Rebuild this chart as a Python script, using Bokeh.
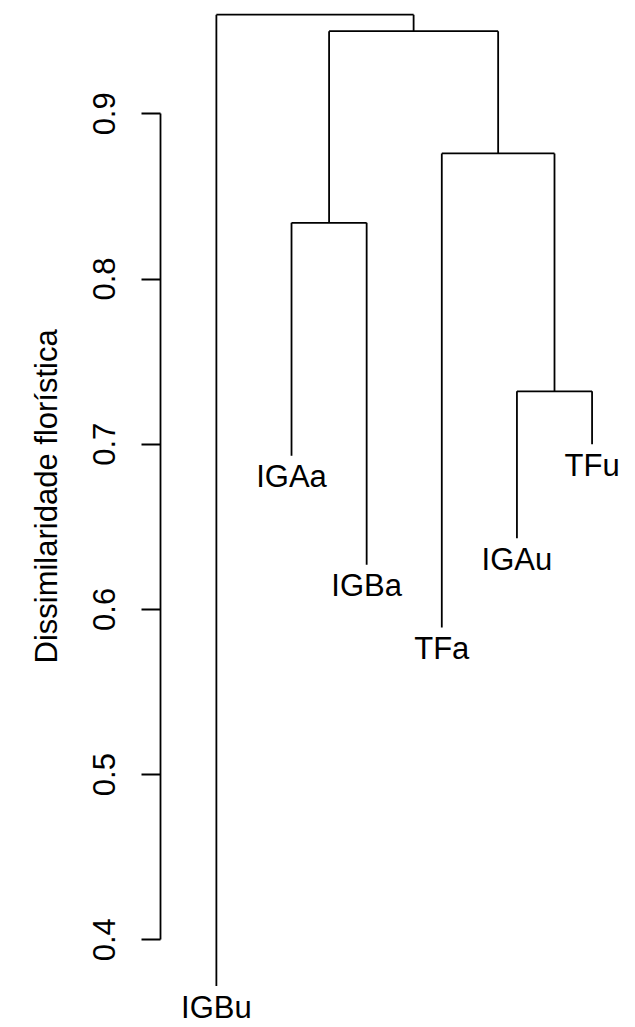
from bokeh.plotting import figure
from bokeh.models import Range1d, LinearAxis, FixedTicker, ColumnDataSource, Title
from bokeh.core.properties import value
from bokeh.embed import file_html
from bokeh.resources import INLINE

# ---- data ----
labels = ["IGBu", "IGAa", "IGBa", "TFa", "IGAu", "TFu"]
leaf_heights = [0.372, 0.693, 0.627, 0.589, 0.643, 0.700]
# merges: children are leaf indices (negative, 1-based) or earlier merges (positive, 1-based)
merge_left = [-5, -2, -4, 2, -1]
merge_right = [-6, -3, 1, 3, 4]
merge_heights = [0.732, 0.834, 0.876, 0.950, 0.960]
y_ticks = [0.4, 0.5, 0.6, 0.7, 0.8, 0.9]
y_title = "Dissimilaridade florística"

FONT = "Liberation Sans"

leaf_x = [i + 1 for i in range(len(labels))]
node_x = []
x0, x1, y0, y1 = [], [], [], []

def child_pos(c):
    if c < 0:
        return leaf_x[-c - 1], leaf_heights[-c - 1]
    return node_x[c - 1], merge_heights[c - 1]

for l, r, h in zip(merge_left, merge_right, merge_heights):
    lx, ly = child_pos(l)
    rx, ry = child_pos(r)
    x0 += [lx, rx, lx]
    x1 += [lx, rx, rx]
    y0 += [ly, ry, h]
    y1 += [h, h, h]
    node_x.append((lx + rx) / 2)

p = figure(width=635, height=1027, output_backend="svg", toolbar_location=None,
           x_range=Range1d(0.2563, 6.578), y_range=Range1d(0.34691, 0.96859),
           min_border_left=159, min_border_right=0, min_border_top=0, min_border_bottom=0,
           x_axis_type=None, y_axis_type=None)
p.outline_line_color = None
p.xgrid.visible = False
p.ygrid.visible = False
p.background_fill_color = "white"
p.border_fill_color = "white"

seg = ColumnDataSource(dict(x0=x0, x1=x1, y0=y0, y1=y1))
p.segment(x0="x0", y0="y0", x1="x1", y1="y1", source=seg, line_color="black", line_width=1.8)

lab = ColumnDataSource(dict(x=leaf_x, y=leaf_heights, t=labels))
p.text(x="x", y="y", text="t", source=lab, text_align="center", text_baseline="alphabetic",
       y_offset=21, text_font=value(FONT), text_font_size="31px", text_color="black")

ax = LinearAxis(ticker=FixedTicker(ticks=y_ticks), bounds=(0.4, 0.9))
ax.axis_line_width = 1.8
ax.major_tick_line_width = 1.8
ax.major_tick_out = 19
ax.major_tick_in = 0
ax.minor_tick_out = 0
ax.minor_tick_in = 0
ax.major_label_orientation = "vertical"
ax.major_label_standoff = 26
ax.major_label_text_font = FONT
ax.major_label_text_font_size = "31px"
ax.major_label_text_color = "black"
p.add_layout(ax, "left")

t = Title(text=y_title, align="left", offset=364, standoff=53,
          text_font=FONT, text_font_size="31px", text_font_style="normal", text_color="black")
p.add_layout(t, "left")

open("out.html", "w").write(file_html(p, INLINE))
